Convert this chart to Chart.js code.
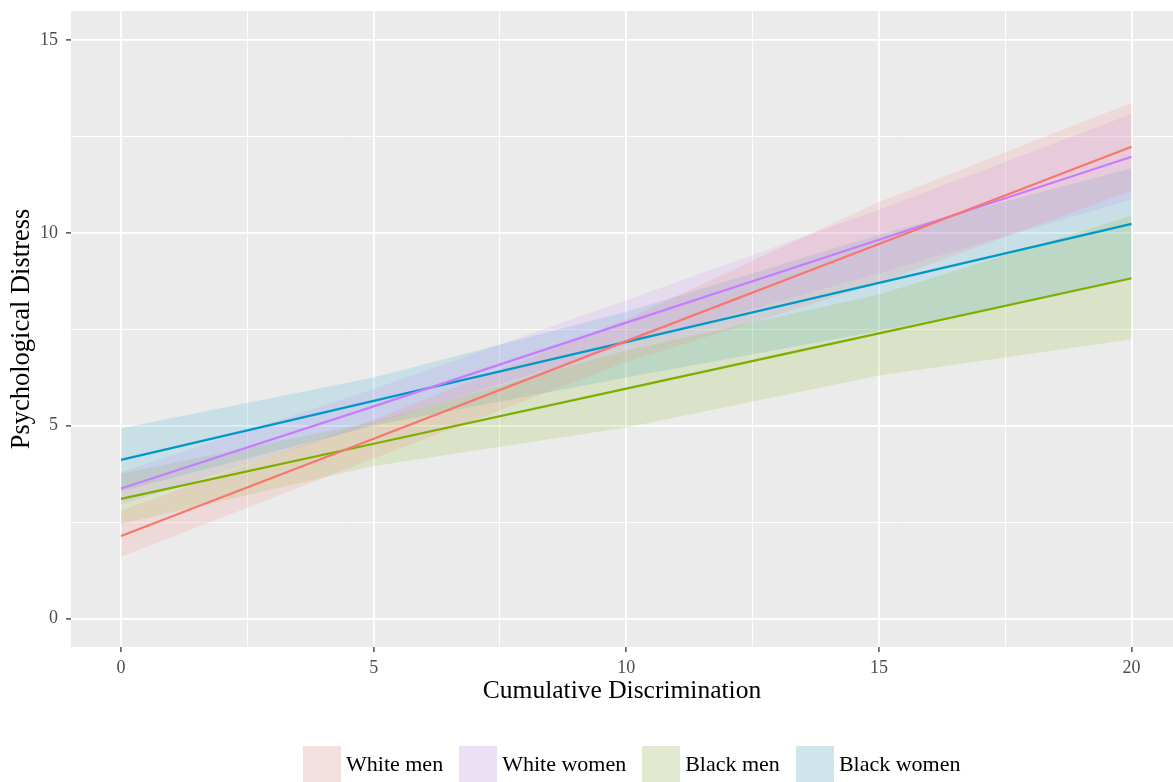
<!DOCTYPE html>
<html>
<head>
<meta charset="utf-8">
<script src="https://cdn.jsdelivr.net/npm/chart.js@4.4.0/dist/chart.umd.min.js"></script>
<style>
  html, body { margin: 0; padding: 0; background: #fff; }
  #wrap { position: relative; width: 1173px; height: 782px; }
  #legend {
    position: absolute; left: 303px; top: 746px; height: 36px;
    display: flex; align-items: center;
    font-family: "Liberation Serif", "Times New Roman", serif; font-size: 22px; color: #000;
  }
  .key { width: 38px; height: 36px; background: #F2F2F2; position: relative; margin-right: 5px; }
  .key span { position: absolute; inset: 0; }
  .lab { margin-right: 16px; }
</style>
</head>
<body>
<div id="wrap">
  <canvas id="distressChart" width="1173" height="782"></canvas>
  <div id="legend"></div>
</div>
<script>
// Data
const xValues = [0, 5, 10, 15, 20];
const groups = ['White men', 'White women', 'Black men', 'Black women'];
const groupColors = ['#F8766D', '#C77CFF', '#7CAE00', '#0098C8'];

const whiteMenFit  = [2.14, 4.66, 7.19, 9.71, 12.23];
const whiteMenLow  = [1.60, 4.15, 6.65, 8.70, 11.09];
const whiteMenHigh = [2.80, 5.15, 7.75, 10.80, 13.37];

const whiteWomenFit  = [3.37, 5.50, 7.67, 9.82, 11.97];
const whiteWomenLow  = [2.95, 5.05, 7.10, 8.95, 10.86];
const whiteWomenHigh = [3.80, 5.95, 8.25, 10.60, 13.08];

const blackMenFit  = [3.10, 4.53, 5.96, 7.39, 8.82];
const blackMenLow  = [2.45, 3.95, 4.95, 6.30, 7.24];
const blackMenHigh = [3.75, 5.10, 6.95, 8.40, 10.44];

const blackWomenFit  = [4.11, 5.64, 7.17, 8.70, 10.23];
const blackWomenLow  = [3.30, 5.00, 6.25, 7.45, 8.80];
const blackWomenHigh = [4.93, 6.25, 7.95, 9.95, 11.67];

const xTicks = [0, 2.5, 5, 7.5, 10, 12.5, 15, 17.5, 20];
const yTicks = [0, 2.5, 5, 7.5, 10, 12.5, 15];

const fits = [whiteMenFit, whiteWomenFit, blackMenFit, blackWomenFit];
const lows = [whiteMenLow, whiteWomenLow, blackMenLow, blackWomenLow];
const highs = [whiteMenHigh, whiteWomenHigh, blackMenHigh, blackWomenHigh];

function pts(ys) {
    return xValues.map((x, i) => ({ x: x, y: ys[i] }));
}

function withAlpha(hex, a) {
    const n = parseInt(hex.slice(1), 16);
    return 'rgba(' + (n >> 16) + ',' + ((n >> 8) & 255) + ',' + (n & 255) + ',' + a + ')';
}

const serif = '"Liberation Serif", "Times New Roman", serif';
const isMajor = v => v % 5 === 0;

// lines first so they are drawn on top of the ribbons
const datasets = [];
groups.forEach((g, i) => {
    datasets.push({
        label: g,
        data: pts(fits[i]),
        borderColor: groupColors[i],
        borderWidth: 2.2,
        pointRadius: 0,
        fill: false
    });
});
groups.forEach((g, i) => {
    datasets.push({
        label: g + ' low',
        data: pts(lows[i]),
        borderWidth: 0,
        borderColor: 'rgba(0,0,0,0)',
        pointRadius: 0,
        fill: false
    });
    datasets.push({
        label: g + ' high',
        data: pts(highs[i]),
        borderWidth: 0,
        borderColor: 'rgba(0,0,0,0)',
        backgroundColor: withAlpha(groupColors[i], 0.15),
        pointRadius: 0,
        fill: '-1'
    });
});

// grey panel behind everything
const panelBg = {
    id: 'panelBg',
    beforeDraw(chart) {
        const { ctx, chartArea: a } = chart;
        ctx.save();
        ctx.fillStyle = '#EBEBEB';
        ctx.fillRect(a.left, a.top, a.right - a.left, a.bottom - a.top);
        ctx.restore();
    }
};

const gridOpts = {
    color: '#FFFFFF',
    lineWidth: c => (isMajor(c.tick.value) ? 1.8 : 0.9),
    tickColor: c => (isMajor(c.tick.value) ? '#333333' : 'rgba(0,0,0,0)'),
    tickLength: 5,
    tickWidth: 1.3
};

new Chart(document.getElementById('distressChart').getContext('2d'), {
    type: 'line',
    data: { datasets: datasets },
    options: {
        responsive: false,
        animation: false,
        devicePixelRatio: 1,
        layout: { padding: { top: 11, right: 0, left: 0, bottom: 0 } },
        elements: { line: { tension: 0 } },
        plugins: {
            legend: { display: false },
            tooltip: { enabled: false }
        },
        scales: {
            x: {
                type: 'linear',
                min: -0.99,
                max: 20.82,
                afterBuildTicks: s => { s.ticks = xTicks.map(v => ({ value: v })); },
                afterFit: s => { s.height = 135; s.paddingLeft = 0; s.paddingRight = 0; },
                grid: gridOpts,
                border: { display: false },
                ticks: {
                    autoSkip: false,
                    maxRotation: 0,
                    padding: 5,
                    color: '#4D4D4D',
                    font: { family: serif, size: 18 },
                    callback: v => (isMajor(v) ? String(v) : '')
                },
                title: {
                    display: true,
                    text: 'Cumulative Discrimination',
                    color: '#000',
                    font: { family: serif, size: 25.5 },
                    padding: { top: 0, bottom: 75 }
                }
            },
            y: {
                type: 'linear',
                min: -0.74,
                max: 15.75,
                afterBuildTicks: s => { s.ticks = yTicks.map(v => ({ value: v })); },
                afterFit: s => { s.width = 71; s.paddingTop = 0; s.paddingBottom = 0; },
                grid: gridOpts,
                border: { display: false },
                ticks: {
                    autoSkip: false,
                    padding: 8,
                    color: '#4D4D4D',
                    font: { family: serif, size: 18 },
                    callback: v => (isMajor(v) ? String(v) : '')
                },
                title: {
                    display: true,
                    text: 'Psychological Distress',
                    color: '#000',
                    font: { family: serif, size: 26.5 },
                    padding: { top: 6, bottom: 0 }
                }
            }
        }
    },
    plugins: [panelBg]
});

// legend built from the same group names and colours
const legend = document.getElementById('legend');
groups.forEach((g, i) => {
    const key = document.createElement('div');
    key.className = 'key';
    const fillSpan = document.createElement('span');
    fillSpan.style.background = withAlpha(groupColors[i], 0.15);
    key.appendChild(fillSpan);
    const lab = document.createElement('div');
    lab.className = 'lab';
    lab.textContent = g;
    legend.appendChild(key);
    legend.appendChild(lab);
});
</script>
</body>
</html>
